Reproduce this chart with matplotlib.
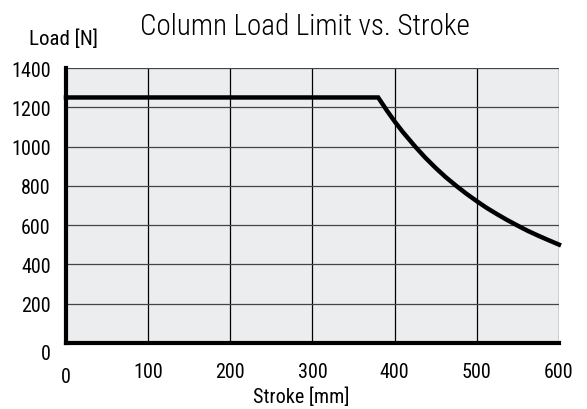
import matplotlib
matplotlib.use('Agg')
import matplotlib.pyplot as plt
import matplotlib.transforms as mtransforms
import numpy as np

plt.rcParams['font.family'] = ['Roboto Condensed', 'DejaVu Sans']

# values
stroke = [0, 380, 390, 400, 410, 425, 437, 450, 462, 475, 487, 500,
          512, 525, 537, 550, 562, 575, 587, 600]
load = [1250, 1250, 1187, 1128, 1074, 1000, 945, 891, 845, 800, 761, 722,
        688, 655, 626, 597, 571, 546, 524, 501]
xticks = [0, 100, 200, 300, 400, 500, 600]
yticks = [0, 200, 400, 600, 800, 1000, 1200, 1400]

fig = plt.figure(figsize=(5.87, 4.10), dpi=100)
ax = fig.add_axes([0.1124, 0.161, 0.8398, 0.6707])
ax.set_facecolor('#ecedef')

ax.plot(stroke, load, color='black', lw=3.2, solid_joinstyle='miter', zorder=5, clip_on=False)

ax.set_xlim(0, 600)
ax.set_ylim(0, 1400)
ax.set_xticks(xticks)
ax.set_yticks(yticks)
ax.set_xticklabels([str(v) for v in xticks], fontsize=14.5)
ax.set_yticklabels([str(v) for v in yticks], fontsize=14.5)
ax.tick_params(axis='x', length=0, pad=14)
ax.tick_params(axis='y', length=0, pad=11)

# the "0" labels sit a little lower in the original
down = mtransforms.ScaledTranslation(0, -6 / 72, fig.dpi_scale_trans)
xl0 = ax.get_xticklabels()[0]
yl0 = ax.get_yticklabels()[0]
xl0.set_transform(xl0.get_transform() + mtransforms.ScaledTranslation(0, -3 / 72, fig.dpi_scale_trans))
yl0.set_transform(yl0.get_transform() + down)

for v in xticks[1:]:
    ax.axvline(v, color='black', lw=0.9, zorder=1)
for v in yticks[1:]:
    ax.axhline(v, color='#444444', lw=0.9, zorder=1)

for s in ['top', 'right']:
    ax.spines[s].set_visible(False)
ax.spines['left'].set_linewidth(3)
ax.spines['bottom'].set_linewidth(3)

fig.text(0.513, 0.032, 'Stroke [mm]', fontsize=14.5, ha='center', va='center')
fig.text(0.109, 0.905, 'Load [N]', fontsize=15, ha='center', va='center')
fig.text(0.52, 0.935, 'Column Load Limit vs. Stroke', fontsize=21, fontweight='light',
         ha='center', va='center')

fig.savefig('out.png', dpi=100)
